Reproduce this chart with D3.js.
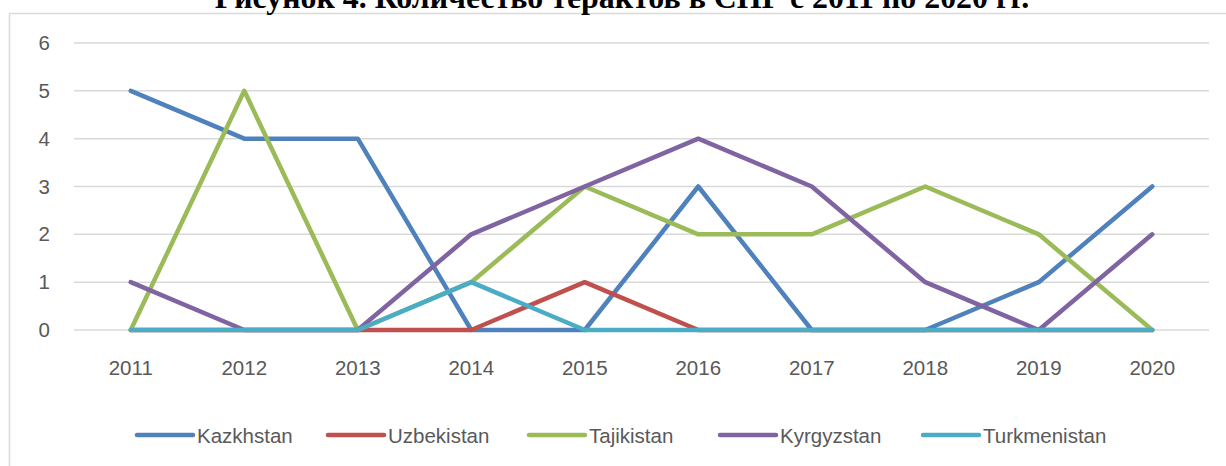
<!DOCTYPE html>
<html>
<head>
<meta charset="utf-8">
<script src="https://cdn.jsdelivr.net/npm/d3@7"></script>
<style>
  html, body { margin: 0; padding: 0; background: #fff; }
  svg { display: block; }
</style>
</head>
<body>
<svg id="chart" width="1226" height="466"></svg>
<script>
const title = "Рисунок 4. Количество терактов в СНГ с 2011 по 2020 гг.";
const years = ["2011","2012","2013","2014","2015","2016","2017","2018","2019","2020"];
const yTicks = [0,1,2,3,4,5,6];
const seriesNames = ["Kazkhstan","Uzbekistan","Tajikistan","Kyrgyzstan","Turkmenistan"];
const kazakhstan   = [5,4,4,0,0,3,0,0,1,3];
const uzbekistan   = [0,0,0,0,1,0,0,0,0,0];
const tajikistan   = [0,5,0,1,3,2,2,3,2,0];
const kyrgyzstan   = [1,0,0,2,3,4,3,1,0,2];
const turkmenistan = [0,0,0,1,0,0,0,0,0,0];
const colors = ["#4F81BD","#C0504D","#9BBB59","#8064A2","#4BACC6"];

const seriesValues = [kazakhstan, uzbekistan, tajikistan, kyrgyzstan, turkmenistan];
const series = seriesNames.map((n,i)=>({name:n, values:seriesValues[i], color:colors[i]}));

const svg = d3.select("#chart");
const font = "'Liberation Sans', Arial, sans-serif";
const textColor = "#595959";
const fs = 20.5;

// chart area border (extends past the page edges)
svg.append("rect")
  .attr("x", 9.5).attr("y", 13.5)
  .attr("width", 1400).attr("height", 600)
  .attr("fill", "none").attr("stroke", "#d9d9d9").attr("stroke-width", 1.5);

// title (partially cut off at the top, as in the reference)
const t = svg.append("text")
  .attr("x", 622).attr("y", 8)
  .attr("text-anchor", "middle")
  .attr("font-family", "'Liberation Serif', 'Times New Roman', serif")
  .attr("font-weight", "bold")
  .attr("font-size", 28)
  .attr("fill", "#000")
  .text(title);
const tw = t.node().getComputedTextLength();
if (tw > 0) t.attr("font-size", 28 * 815 / tw);

const x = d3.scaleBand().domain(years).range([74, 1209]);
const y = d3.scaleLinear().domain([0, 6]).range([330, 43]);

// gridlines
svg.append("g").selectAll("line").data(yTicks).join("line")
  .attr("x1", 74).attr("x2", 1209)
  .attr("y1", d => y(d)).attr("y2", d => y(d))
  .attr("stroke", "#d9d9d9").attr("stroke-width", 1.5);

// y axis
const yAxis = svg.append("g").attr("transform", "translate(50,0)")
  .call(d3.axisLeft(y).tickValues(yTicks).tickSize(0).tickPadding(0).tickFormat(d3.format("d")));
yAxis.select(".domain").remove();
yAxis.selectAll("text").attr("font-family", font).attr("font-size", fs).attr("fill", textColor);

// x axis
const xAxis = svg.append("g").attr("transform", "translate(0,330)")
  .call(d3.axisBottom(x).tickSize(0).tickPadding(30));
xAxis.select(".domain").remove();
xAxis.selectAll("text").attr("font-family", font).attr("font-size", fs).attr("fill", textColor);

// lines
const line = d3.line()
  .x((d,i) => x(years[i]) + x.bandwidth()/2)
  .y(d => y(d));

svg.append("g").selectAll("path").data(series).join("path")
  .attr("d", d => line(d.values))
  .attr("fill", "none")
  .attr("stroke", d => d.color)
  .attr("stroke-width", 4.5)
  .attr("stroke-linejoin", "round")
  .attr("stroke-linecap", "round");

// legend
const legendX = [137, 328, 529, 720, 923];
const lg = svg.append("g").selectAll("g").data(series).join("g")
  .attr("transform", (d,i) => `translate(${legendX[i]},435)`);
lg.append("line")
  .attr("x1", 0).attr("x2", 56).attr("y1", 0).attr("y2", 0)
  .attr("stroke", d => d.color).attr("stroke-width", 4.5).attr("stroke-linecap", "round");
lg.append("text")
  .attr("x", 60).attr("y", 7.5)
  .attr("font-family", font).attr("font-size", fs).attr("fill", textColor)
  .text(d => d.name);
</script>
</body>
</html>
